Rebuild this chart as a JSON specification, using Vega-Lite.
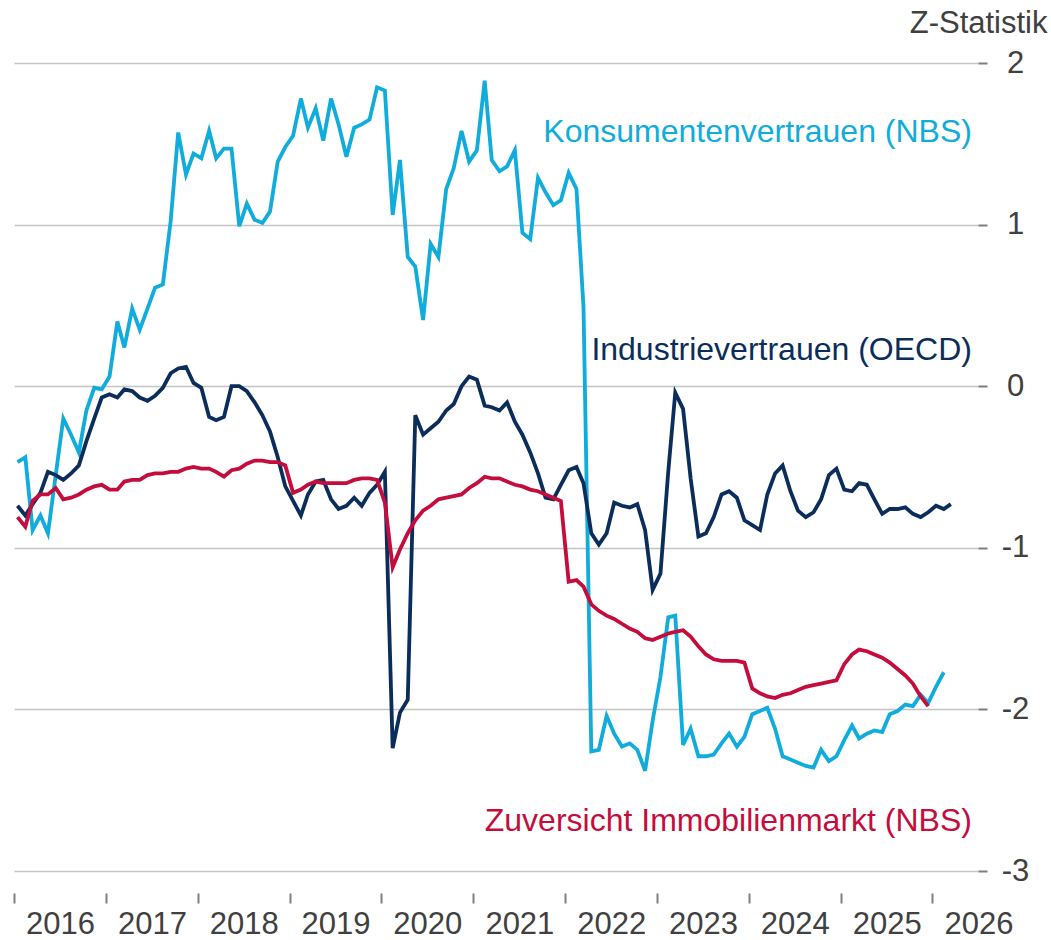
{
"$schema": "https://vega.github.io/schema/vega-lite/v6.json",
"width": 964, "height": 808,
"autosize": {"type": "none"},
"padding": {"left": 14, "top": 63, "right": 73, "bottom": 69},
"background": "white",
"config": {"view": {"stroke": null}, "font": "Liberation Sans"},
"datasets": {
"series": [
{"date":"2016-01-15","series":"K","value":-0.47},{"date":"2016-02-15","series":"K","value":-0.44},{"date":"2016-03-15","series":"K","value":-0.89},{"date":"2016-04-15","series":"K","value":-0.80},{"date":"2016-05-15","series":"K","value":-0.91},{"date":"2016-06-15","series":"K","value":-0.55},{"date":"2016-07-15","series":"K","value":-0.20},{"date":"2016-08-15","series":"K","value":-0.30},{"date":"2016-09-15","series":"K","value":-0.41},{"date":"2016-10-15","series":"K","value":-0.15},{"date":"2016-11-15","series":"K","value":-0.01},{"date":"2016-12-15","series":"K","value":-0.02},
{"date":"2017-01-15","series":"K","value":0.06},{"date":"2017-02-15","series":"K","value":0.40},{"date":"2017-03-15","series":"K","value":0.24},{"date":"2017-04-15","series":"K","value":0.48},{"date":"2017-05-15","series":"K","value":0.35},{"date":"2017-06-15","series":"K","value":0.48},{"date":"2017-07-15","series":"K","value":0.61},{"date":"2017-08-15","series":"K","value":0.63},{"date":"2017-09-15","series":"K","value":1.02},{"date":"2017-10-15","series":"K","value":1.57},{"date":"2017-11-15","series":"K","value":1.31},{"date":"2017-12-15","series":"K","value":1.44},
{"date":"2018-01-15","series":"K","value":1.41},{"date":"2018-02-15","series":"K","value":1.58},{"date":"2018-03-15","series":"K","value":1.41},{"date":"2018-04-15","series":"K","value":1.47},{"date":"2018-05-15","series":"K","value":1.47},{"date":"2018-06-15","series":"K","value":0.99},{"date":"2018-07-15","series":"K","value":1.13},{"date":"2018-08-15","series":"K","value":1.03},{"date":"2018-09-15","series":"K","value":1.01},{"date":"2018-10-15","series":"K","value":1.08},{"date":"2018-11-15","series":"K","value":1.39},{"date":"2018-12-15","series":"K","value":1.48},
{"date":"2019-01-15","series":"K","value":1.55},{"date":"2019-02-15","series":"K","value":1.78},{"date":"2019-03-15","series":"K","value":1.60},{"date":"2019-04-15","series":"K","value":1.72},{"date":"2019-05-15","series":"K","value":1.52},{"date":"2019-06-15","series":"K","value":1.78},{"date":"2019-07-15","series":"K","value":1.62},{"date":"2019-08-15","series":"K","value":1.42},{"date":"2019-09-15","series":"K","value":1.60},{"date":"2019-10-15","series":"K","value":1.62},{"date":"2019-11-15","series":"K","value":1.65},{"date":"2019-12-15","series":"K","value":1.85},
{"date":"2020-01-15","series":"K","value":1.83},{"date":"2020-02-15","series":"K","value":1.06},{"date":"2020-03-15","series":"K","value":1.40},{"date":"2020-04-15","series":"K","value":0.80},{"date":"2020-05-15","series":"K","value":0.74},{"date":"2020-06-15","series":"K","value":0.41},{"date":"2020-07-15","series":"K","value":0.88},{"date":"2020-08-15","series":"K","value":0.80},{"date":"2020-09-15","series":"K","value":1.22},{"date":"2020-10-15","series":"K","value":1.35},{"date":"2020-11-15","series":"K","value":1.58},{"date":"2020-12-15","series":"K","value":1.39},
{"date":"2021-01-15","series":"K","value":1.46},{"date":"2021-02-15","series":"K","value":1.89},{"date":"2021-03-15","series":"K","value":1.40},{"date":"2021-04-15","series":"K","value":1.33},{"date":"2021-05-15","series":"K","value":1.36},{"date":"2021-06-15","series":"K","value":1.46},{"date":"2021-07-15","series":"K","value":0.95},{"date":"2021-08-15","series":"K","value":0.91},{"date":"2021-09-15","series":"K","value":1.29},{"date":"2021-10-15","series":"K","value":1.20},{"date":"2021-11-15","series":"K","value":1.12},{"date":"2021-12-15","series":"K","value":1.15},
{"date":"2022-01-15","series":"K","value":1.32},{"date":"2022-02-15","series":"K","value":1.22},{"date":"2022-03-15","series":"K","value":0.49},{"date":"2022-04-15","series":"K","value":-2.26},{"date":"2022-05-15","series":"K","value":-2.25},{"date":"2022-06-15","series":"K","value":-2.04},{"date":"2022-07-15","series":"K","value":-2.15},{"date":"2022-08-15","series":"K","value":-2.23},{"date":"2022-09-15","series":"K","value":-2.21},{"date":"2022-10-15","series":"K","value":-2.25},{"date":"2022-11-15","series":"K","value":-2.38},{"date":"2022-12-15","series":"K","value":-2.07},
{"date":"2023-01-15","series":"K","value":-1.80},{"date":"2023-02-15","series":"K","value":-1.43},{"date":"2023-03-15","series":"K","value":-1.42},{"date":"2023-04-15","series":"K","value":-2.22},{"date":"2023-05-15","series":"K","value":-2.12},{"date":"2023-06-15","series":"K","value":-2.29},{"date":"2023-07-15","series":"K","value":-2.29},{"date":"2023-08-15","series":"K","value":-2.28},{"date":"2023-09-15","series":"K","value":-2.21},{"date":"2023-10-15","series":"K","value":-2.15},{"date":"2023-11-15","series":"K","value":-2.23},{"date":"2023-12-15","series":"K","value":-2.17},
{"date":"2024-01-15","series":"K","value":-2.03},{"date":"2024-02-15","series":"K","value":-2.01},{"date":"2024-03-15","series":"K","value":-1.99},{"date":"2024-04-15","series":"K","value":-2.12},{"date":"2024-05-15","series":"K","value":-2.29},{"date":"2024-06-15","series":"K","value":-2.31},{"date":"2024-07-15","series":"K","value":-2.33},{"date":"2024-08-15","series":"K","value":-2.35},{"date":"2024-09-15","series":"K","value":-2.36},{"date":"2024-10-15","series":"K","value":-2.25},{"date":"2024-11-15","series":"K","value":-2.32},{"date":"2024-12-15","series":"K","value":-2.29},
{"date":"2025-01-15","series":"K","value":-2.19},{"date":"2025-02-15","series":"K","value":-2.10},{"date":"2025-03-15","series":"K","value":-2.18},{"date":"2025-04-15","series":"K","value":-2.15},{"date":"2025-05-15","series":"K","value":-2.13},{"date":"2025-06-15","series":"K","value":-2.14},{"date":"2025-07-15","series":"K","value":-2.03},{"date":"2025-08-15","series":"K","value":-2.01},{"date":"2025-09-15","series":"K","value":-1.97},{"date":"2025-10-15","series":"K","value":-1.98},{"date":"2025-11-15","series":"K","value":-1.91},{"date":"2025-12-15","series":"K","value":-1.96},
{"date":"2026-01-15","series":"K","value":-1.86},{"date":"2026-02-15","series":"K","value":-1.77},
{"date":"2016-01-15","series":"I","value":-0.74},{"date":"2016-02-15","series":"I","value":-0.80},{"date":"2016-03-15","series":"I","value":-0.73},{"date":"2016-04-15","series":"I","value":-0.66},{"date":"2016-05-15","series":"I","value":-0.53},{"date":"2016-06-15","series":"I","value":-0.55},{"date":"2016-07-15","series":"I","value":-0.58},{"date":"2016-08-15","series":"I","value":-0.54},{"date":"2016-09-15","series":"I","value":-0.49},{"date":"2016-10-15","series":"I","value":-0.34},{"date":"2016-11-15","series":"I","value":-0.20},{"date":"2016-12-15","series":"I","value":-0.07},
{"date":"2017-01-15","series":"I","value":-0.05},{"date":"2017-02-15","series":"I","value":-0.07},{"date":"2017-03-15","series":"I","value":-0.02},{"date":"2017-04-15","series":"I","value":-0.03},{"date":"2017-05-15","series":"I","value":-0.07},{"date":"2017-06-15","series":"I","value":-0.09},{"date":"2017-07-15","series":"I","value":-0.06},{"date":"2017-08-15","series":"I","value":-0.01},{"date":"2017-09-15","series":"I","value":0.08},{"date":"2017-10-15","series":"I","value":0.11},{"date":"2017-11-15","series":"I","value":0.12},{"date":"2017-12-15","series":"I","value":0.02},
{"date":"2018-01-15","series":"I","value":-0.01},{"date":"2018-02-15","series":"I","value":-0.19},{"date":"2018-03-15","series":"I","value":-0.21},{"date":"2018-04-15","series":"I","value":-0.19},{"date":"2018-05-15","series":"I","value":0.00},{"date":"2018-06-15","series":"I","value":0.00},{"date":"2018-07-15","series":"I","value":-0.03},{"date":"2018-08-15","series":"I","value":-0.10},{"date":"2018-09-15","series":"I","value":-0.18},{"date":"2018-10-15","series":"I","value":-0.28},{"date":"2018-11-15","series":"I","value":-0.44},{"date":"2018-12-15","series":"I","value":-0.62},
{"date":"2019-01-15","series":"I","value":-0.71},{"date":"2019-02-15","series":"I","value":-0.80},{"date":"2019-03-15","series":"I","value":-0.67},{"date":"2019-04-15","series":"I","value":-0.59},{"date":"2019-05-15","series":"I","value":-0.58},{"date":"2019-06-15","series":"I","value":-0.70},{"date":"2019-07-15","series":"I","value":-0.76},{"date":"2019-08-15","series":"I","value":-0.74},{"date":"2019-09-15","series":"I","value":-0.69},{"date":"2019-10-15","series":"I","value":-0.74},{"date":"2019-11-15","series":"I","value":-0.66},{"date":"2019-12-15","series":"I","value":-0.61},
{"date":"2020-01-15","series":"I","value":-0.53},{"date":"2020-02-15","series":"I","value":-2.24},{"date":"2020-03-15","series":"I","value":-2.02},{"date":"2020-04-15","series":"I","value":-1.94},{"date":"2020-05-15","series":"I","value":-0.18},{"date":"2020-06-15","series":"I","value":-0.30},{"date":"2020-07-15","series":"I","value":-0.26},{"date":"2020-08-15","series":"I","value":-0.22},{"date":"2020-09-15","series":"I","value":-0.15},{"date":"2020-10-15","series":"I","value":-0.11},{"date":"2020-11-15","series":"I","value":0.00},{"date":"2020-12-15","series":"I","value":0.06},
{"date":"2021-01-15","series":"I","value":0.04},{"date":"2021-02-15","series":"I","value":-0.12},{"date":"2021-03-15","series":"I","value":-0.13},{"date":"2021-04-15","series":"I","value":-0.15},{"date":"2021-05-15","series":"I","value":-0.10},{"date":"2021-06-15","series":"I","value":-0.22},{"date":"2021-07-15","series":"I","value":-0.30},{"date":"2021-08-15","series":"I","value":-0.41},{"date":"2021-09-15","series":"I","value":-0.54},{"date":"2021-10-15","series":"I","value":-0.69},{"date":"2021-11-15","series":"I","value":-0.70},{"date":"2021-12-15","series":"I","value":-0.61},
{"date":"2022-01-15","series":"I","value":-0.52},{"date":"2022-02-15","series":"I","value":-0.50},{"date":"2022-03-15","series":"I","value":-0.60},{"date":"2022-04-15","series":"I","value":-0.91},{"date":"2022-05-15","series":"I","value":-0.98},{"date":"2022-06-15","series":"I","value":-0.91},{"date":"2022-07-15","series":"I","value":-0.72},{"date":"2022-08-15","series":"I","value":-0.74},{"date":"2022-09-15","series":"I","value":-0.75},{"date":"2022-10-15","series":"I","value":-0.73},{"date":"2022-11-15","series":"I","value":-0.89},{"date":"2022-12-15","series":"I","value":-1.26},
{"date":"2023-01-15","series":"I","value":-1.16},{"date":"2023-02-15","series":"I","value":-0.53},{"date":"2023-03-15","series":"I","value":-0.04},{"date":"2023-04-15","series":"I","value":-0.14},{"date":"2023-05-15","series":"I","value":-0.57},{"date":"2023-06-15","series":"I","value":-0.93},{"date":"2023-07-15","series":"I","value":-0.91},{"date":"2023-08-15","series":"I","value":-0.81},{"date":"2023-09-15","series":"I","value":-0.67},{"date":"2023-10-15","series":"I","value":-0.65},{"date":"2023-11-15","series":"I","value":-0.69},{"date":"2023-12-15","series":"I","value":-0.83},
{"date":"2024-01-15","series":"I","value":-0.86},{"date":"2024-02-15","series":"I","value":-0.89},{"date":"2024-03-15","series":"I","value":-0.67},{"date":"2024-04-15","series":"I","value":-0.54},{"date":"2024-05-15","series":"I","value":-0.49},{"date":"2024-06-15","series":"I","value":-0.65},{"date":"2024-07-15","series":"I","value":-0.77},{"date":"2024-08-15","series":"I","value":-0.81},{"date":"2024-09-15","series":"I","value":-0.78},{"date":"2024-10-15","series":"I","value":-0.70},{"date":"2024-11-15","series":"I","value":-0.55},{"date":"2024-12-15","series":"I","value":-0.51},
{"date":"2025-01-15","series":"I","value":-0.64},{"date":"2025-02-15","series":"I","value":-0.65},{"date":"2025-03-15","series":"I","value":-0.60},{"date":"2025-04-15","series":"I","value":-0.61},{"date":"2025-05-15","series":"I","value":-0.70},{"date":"2025-06-15","series":"I","value":-0.79},{"date":"2025-07-15","series":"I","value":-0.76},{"date":"2025-08-15","series":"I","value":-0.76},{"date":"2025-09-15","series":"I","value":-0.75},{"date":"2025-10-15","series":"I","value":-0.79},{"date":"2025-11-15","series":"I","value":-0.81},{"date":"2025-12-15","series":"I","value":-0.78},
{"date":"2026-01-15","series":"I","value":-0.74},{"date":"2026-02-15","series":"I","value":-0.76},{"date":"2026-03-15","series":"I","value":-0.73},
{"date":"2016-01-15","series":"Z","value":-0.81},{"date":"2016-02-15","series":"Z","value":-0.87},{"date":"2016-03-15","series":"Z","value":-0.71},{"date":"2016-04-15","series":"Z","value":-0.67},{"date":"2016-05-15","series":"Z","value":-0.67},{"date":"2016-06-15","series":"Z","value":-0.63},{"date":"2016-07-15","series":"Z","value":-0.70},{"date":"2016-08-15","series":"Z","value":-0.69},{"date":"2016-09-15","series":"Z","value":-0.67},{"date":"2016-10-15","series":"Z","value":-0.64},{"date":"2016-11-15","series":"Z","value":-0.62},{"date":"2016-12-15","series":"Z","value":-0.61},
{"date":"2017-01-15","series":"Z","value":-0.64},{"date":"2017-02-15","series":"Z","value":-0.64},{"date":"2017-03-15","series":"Z","value":-0.59},{"date":"2017-04-15","series":"Z","value":-0.58},{"date":"2017-05-15","series":"Z","value":-0.58},{"date":"2017-06-15","series":"Z","value":-0.55},{"date":"2017-07-15","series":"Z","value":-0.54},{"date":"2017-08-15","series":"Z","value":-0.54},{"date":"2017-09-15","series":"Z","value":-0.53},{"date":"2017-10-15","series":"Z","value":-0.53},{"date":"2017-11-15","series":"Z","value":-0.51},{"date":"2017-12-15","series":"Z","value":-0.50},
{"date":"2018-01-15","series":"Z","value":-0.51},{"date":"2018-02-15","series":"Z","value":-0.51},{"date":"2018-03-15","series":"Z","value":-0.53},{"date":"2018-04-15","series":"Z","value":-0.56},{"date":"2018-05-15","series":"Z","value":-0.52},{"date":"2018-06-15","series":"Z","value":-0.51},{"date":"2018-07-15","series":"Z","value":-0.48},{"date":"2018-08-15","series":"Z","value":-0.46},{"date":"2018-09-15","series":"Z","value":-0.46},{"date":"2018-10-15","series":"Z","value":-0.47},{"date":"2018-11-15","series":"Z","value":-0.47},{"date":"2018-12-15","series":"Z","value":-0.49},
{"date":"2019-01-15","series":"Z","value":-0.66},{"date":"2019-02-15","series":"Z","value":-0.64},{"date":"2019-03-15","series":"Z","value":-0.61},{"date":"2019-04-15","series":"Z","value":-0.59},{"date":"2019-05-15","series":"Z","value":-0.60},{"date":"2019-06-15","series":"Z","value":-0.60},{"date":"2019-07-15","series":"Z","value":-0.60},{"date":"2019-08-15","series":"Z","value":-0.60},{"date":"2019-09-15","series":"Z","value":-0.58},{"date":"2019-10-15","series":"Z","value":-0.57},{"date":"2019-11-15","series":"Z","value":-0.57},{"date":"2019-12-15","series":"Z","value":-0.58},
{"date":"2020-01-15","series":"Z","value":-0.72},{"date":"2020-02-15","series":"Z","value":-1.12},{"date":"2020-03-15","series":"Z","value":-1.01},{"date":"2020-04-15","series":"Z","value":-0.91},{"date":"2020-05-15","series":"Z","value":-0.83},{"date":"2020-06-15","series":"Z","value":-0.77},{"date":"2020-07-15","series":"Z","value":-0.74},{"date":"2020-08-15","series":"Z","value":-0.70},{"date":"2020-09-15","series":"Z","value":-0.69},{"date":"2020-10-15","series":"Z","value":-0.68},{"date":"2020-11-15","series":"Z","value":-0.67},{"date":"2020-12-15","series":"Z","value":-0.63},
{"date":"2021-01-15","series":"Z","value":-0.60},{"date":"2021-02-15","series":"Z","value":-0.56},{"date":"2021-03-15","series":"Z","value":-0.57},{"date":"2021-04-15","series":"Z","value":-0.57},{"date":"2021-05-15","series":"Z","value":-0.59},{"date":"2021-06-15","series":"Z","value":-0.61},{"date":"2021-07-15","series":"Z","value":-0.62},{"date":"2021-08-15","series":"Z","value":-0.64},{"date":"2021-09-15","series":"Z","value":-0.65},{"date":"2021-10-15","series":"Z","value":-0.67},{"date":"2021-11-15","series":"Z","value":-0.69},{"date":"2021-12-15","series":"Z","value":-0.71},
{"date":"2022-01-15","series":"Z","value":-1.21},{"date":"2022-02-15","series":"Z","value":-1.20},{"date":"2022-03-15","series":"Z","value":-1.24},{"date":"2022-04-15","series":"Z","value":-1.35},{"date":"2022-05-15","series":"Z","value":-1.39},{"date":"2022-06-15","series":"Z","value":-1.42},{"date":"2022-07-15","series":"Z","value":-1.44},{"date":"2022-08-15","series":"Z","value":-1.47},{"date":"2022-09-15","series":"Z","value":-1.50},{"date":"2022-10-15","series":"Z","value":-1.52},{"date":"2022-11-15","series":"Z","value":-1.56},{"date":"2022-12-15","series":"Z","value":-1.57},
{"date":"2023-01-15","series":"Z","value":-1.55},{"date":"2023-02-15","series":"Z","value":-1.53},{"date":"2023-03-15","series":"Z","value":-1.52},{"date":"2023-04-15","series":"Z","value":-1.51},{"date":"2023-05-15","series":"Z","value":-1.55},{"date":"2023-06-15","series":"Z","value":-1.61},{"date":"2023-07-15","series":"Z","value":-1.66},{"date":"2023-08-15","series":"Z","value":-1.69},{"date":"2023-09-15","series":"Z","value":-1.70},{"date":"2023-10-15","series":"Z","value":-1.70},{"date":"2023-11-15","series":"Z","value":-1.70},{"date":"2023-12-15","series":"Z","value":-1.71},
{"date":"2024-01-15","series":"Z","value":-1.87},{"date":"2024-02-15","series":"Z","value":-1.90},{"date":"2024-03-15","series":"Z","value":-1.92},{"date":"2024-04-15","series":"Z","value":-1.93},{"date":"2024-05-15","series":"Z","value":-1.91},{"date":"2024-06-15","series":"Z","value":-1.90},{"date":"2024-07-15","series":"Z","value":-1.88},{"date":"2024-08-15","series":"Z","value":-1.86},{"date":"2024-09-15","series":"Z","value":-1.85},{"date":"2024-10-15","series":"Z","value":-1.84},{"date":"2024-11-15","series":"Z","value":-1.83},{"date":"2024-12-15","series":"Z","value":-1.82},
{"date":"2025-01-15","series":"Z","value":-1.72},{"date":"2025-02-15","series":"Z","value":-1.66},{"date":"2025-03-15","series":"Z","value":-1.63},{"date":"2025-04-15","series":"Z","value":-1.64},{"date":"2025-05-15","series":"Z","value":-1.66},{"date":"2025-06-15","series":"Z","value":-1.68},{"date":"2025-07-15","series":"Z","value":-1.71},{"date":"2025-08-15","series":"Z","value":-1.75},{"date":"2025-09-15","series":"Z","value":-1.79},{"date":"2025-10-15","series":"Z","value":-1.84},{"date":"2025-11-15","series":"Z","value":-1.92},{"date":"2025-12-15","series":"Z","value":-1.98}
],
"labels": [
{"date":"2026-06-07","series":"K","value":1.513,"label":"Konsumentenvertrauen (NBS)"},
{"date":"2026-06-07","series":"I","value":0.162,"label":"Industrievertrauen (OECD)"},
{"date":"2026-06-07","series":"Z","value":-2.752,"label":"Zuversicht Immobilienmarkt (NBS)"}
]
},
"layer": [
{
"data": {"name": "series"},
"mark": {"type": "line", "strokeWidth": 3.8},
"encoding": {
"x": {"field": "date", "type": "temporal",
"scale": {"type": "utc", "domain": [{"year": 2016, "month": 1, "date": 1, "utc": true}, {"year": 2026, "month": 7, "date": 1, "utc": true}]},
"axis": {"orient": "bottom", "tickCount": {"interval": "year", "step": 1}, "format": "%Y", "grid": false, "domain": false, "offset": 22, "tickSize": 10, "tickWidth": 2, "tickColor": "#7F7F7F", "labelOffset": 46, "labelAlign": "center", "labelBaseline": "alphabetic", "labelPadding": 30, "labelFontSize": 31, "labelColor": "#404040", "labelFlush": false, "labelOverlap": false, "labelBound": false, "title": null}},
"y": {"field": "value", "type": "quantitative",
"scale": {"domain": [-3, 2], "nice": false, "zero": false},
"axis": {"orient": "right", "values": [-3, -2, -1, 0, 1, 2], "grid": true, "gridColor": "#C4C4C4", "gridWidth": 1.5, "domain": false, "tickColor": "#7F7F7F", "tickSize": 9, "tickWidth": 2, "labelFontSize": 31, "labelColor": "#404040", "labelAlign": "center", "labelBaseline": "middle", "labelPadding": 28, "labelExpr": "datum.value < 0 ? '-' + abs(datum.value) : '' + datum.value", "title": "Z-Statistik", "titleAngle": 0, "titleAlign": "right", "titleBaseline": "alphabetic", "titleX": 69, "titleY": -31, "titleFontSize": 31, "titleFontWeight": "normal", "titleColor": "#404040"}},
"color": {"field": "series", "type": "nominal", "scale": {"domain": ["K", "I", "Z"], "range": ["#10ACDC", "#0B2D5B", "#C40D3C"]}, "legend": null}
}
},
{
"data": {"name": "labels"},
"mark": {"type": "text", "align": "right", "baseline": "alphabetic", "fontSize": 32},
"encoding": {
"x": {"field": "date", "type": "temporal"},
"y": {"field": "value", "type": "quantitative"},
"text": {"field": "label"},
"color": {"field": "series", "type": "nominal", "legend": null}
}
}
]
}
